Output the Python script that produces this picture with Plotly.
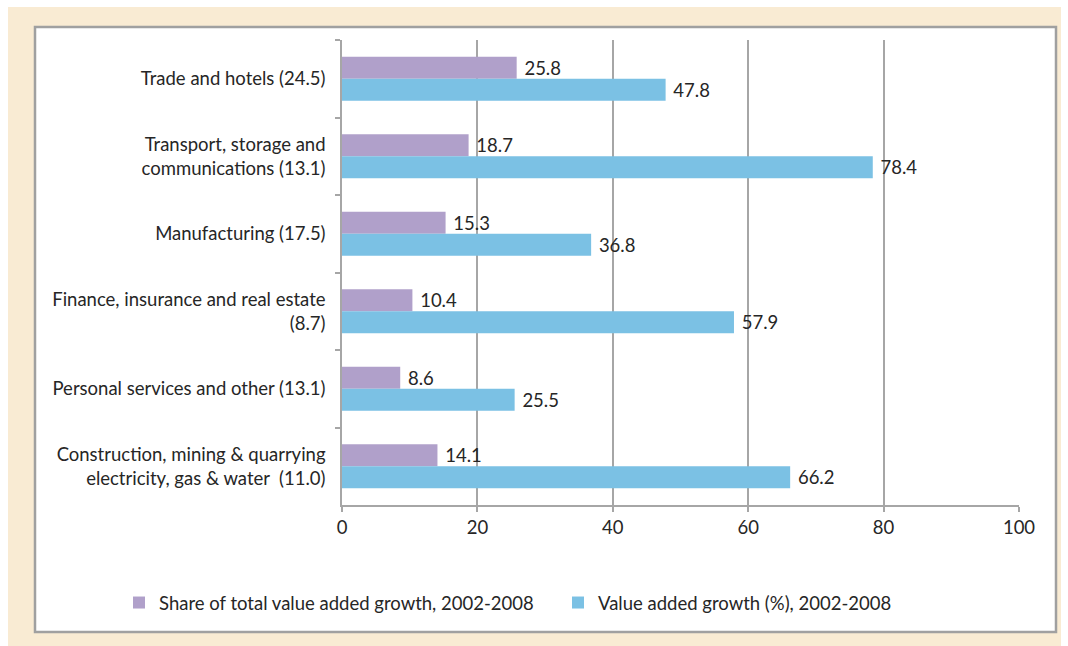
import plotly.graph_objects as go

# Sectors (share of total value added in parentheses)
sectors = [
    "Trade and hotels (24.5)",
    "Transport, storage and<br>communications (13.1)",
    "Manufacturing (17.5)",
    "Finance, insurance and real estate<br>(8.7)",
    "Personal services and other (13.1)",
    "Construction, mining & quarrying<br>electricity, gas & water  (11.0)",
]
share_growth = [25.8, 18.7, 15.3, 10.4, 8.6, 14.1]
value_growth = [47.8, 78.4, 36.8, 57.9, 25.5, 66.2]
x_ticks = [0, 20, 40, 60, 80, 100]

PURPLE = "#b0a0ca"
BLUE = "#7bc1e4"
BEIGE = "#f9ebd3"
GRID = "#a6a6a6"
TEXT = "#262626"
FONT = "Lato"
FS = 18.5

fig = go.Figure()
fig.add_trace(go.Bar(
    y=sectors, x=share_growth, orientation="h",
    name="Share of total value added growth, 2002-2008",
    marker=dict(color=PURPLE, line=dict(width=0)),
    text=[f"\u00a0{v:.1f}" for v in share_growth], textposition="outside",
    constraintext="none",
    textfont=dict(family=FONT, size=FS, color=TEXT), cliponaxis=False,
))
fig.add_trace(go.Bar(
    y=sectors, x=value_growth, orientation="h",
    name="Value added growth (%), 2002-2008",
    marker=dict(color=BLUE, line=dict(width=0)),
    text=[f"\u00a0{v:.1f}" for v in value_growth], textposition="outside",
    constraintext="none",
    textfont=dict(family=FONT, size=FS, color=TEXT), cliponaxis=False,
))

L, R, T, B = 342, 49, 40, 141
W, H = 1068, 646
pw, ph = W - L - R, H - T - B

def px(x):
    return (x - L) / pw

def py(y):
    return (H - B - y) / ph

# beige frame and white panel with grey border
fig.add_shape(type="rect", xref="paper", yref="paper", layer="below",
              x0=px(8), x1=px(1061), y0=py(646), y1=py(7),
              fillcolor=BEIGE, line=dict(width=0))
fig.add_shape(type="rect", xref="paper", yref="paper", layer="below",
              x0=px(35), x1=px(1056), y0=py(632), y1=py(27),
              fillcolor="white", line=dict(color="#a0a0a0", width=2.5))

fig.update_layout(
    width=W, height=H,
    margin=dict(l=L, r=R, t=T, b=B),
    paper_bgcolor="white", plot_bgcolor="rgba(0,0,0,0)",
    barmode="group", bargap=0.43, bargroupgap=0,
    font=dict(family=FONT, size=FS, color=TEXT),
    showlegend=True,
    legend=dict(orientation="h", x=px(119), xanchor="left",
                y=py(603), yanchor="middle",
                entrywidth=394, entrywidthmode="pixels",
                font=dict(family=FONT, size=FS, color=TEXT),
                bgcolor="rgba(0,0,0,0)", itemclick=False),
    xaxis=dict(range=[0, 100], tickvals=x_ticks, showgrid=True,
               gridcolor=GRID, gridwidth=1.5, zeroline=False,
               showline=True, linecolor=GRID, linewidth=1.5,
               ticks="outside", ticklen=5, tickcolor=GRID, tickwidth=1.5,
               tickfont=dict(family=FONT, size=FS, color=TEXT)),
    yaxis=dict(autorange="reversed", showline=True, linecolor=GRID,
               linewidth=1.5, ticks="outside", tickson="boundaries",
               ticklen=5, tickcolor=GRID, tickwidth=1.5, showgrid=False,
               ticklabelstandoff=11,
               tickfont=dict(family=FONT, size=FS, color=TEXT)),
)

fig.write_html("out.html")
